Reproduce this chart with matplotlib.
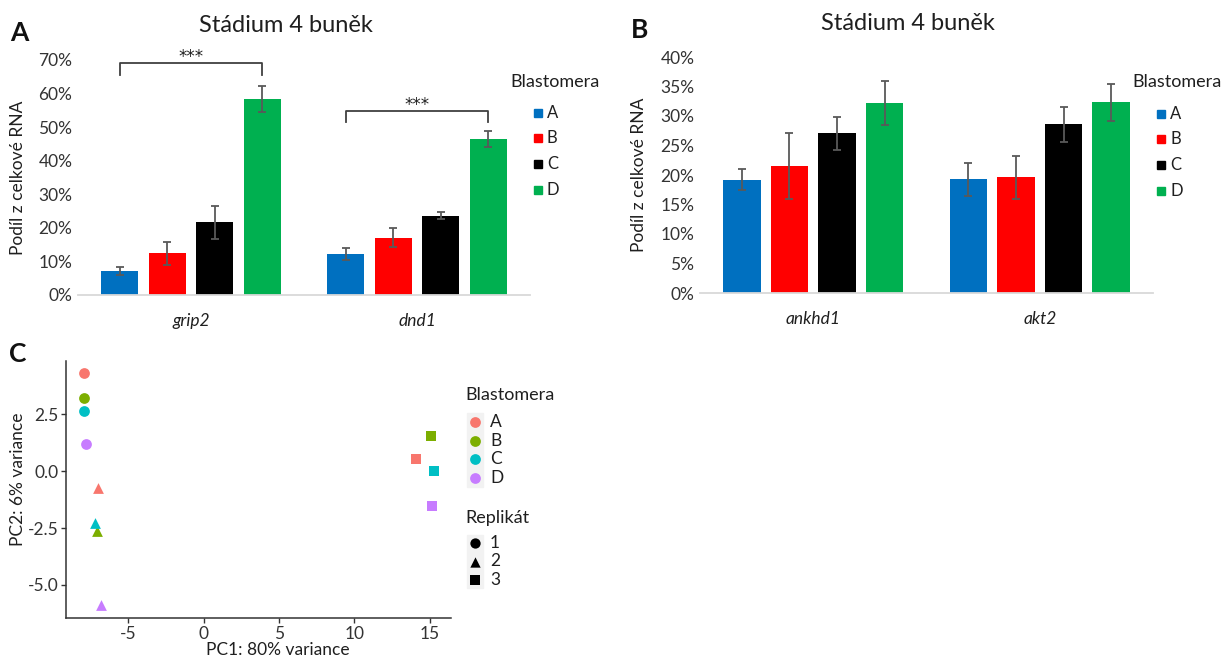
import matplotlib
matplotlib.use("Agg")
import matplotlib.pyplot as plt
import matplotlib.ticker as mticker
from matplotlib.patches import Rectangle
import numpy as np

plt.rcParams["font.family"] = ["Lato", "DejaVu Sans"]
plt.rcParams["axes.unicode_minus"] = False

W, H = 1232, 661

BLASTOMERES = ["A", "B", "C", "D"]
BAR_COLORS = ["#0070C0", "#FF0000", "#000000", "#00B050"]

# panel A: per gene, values for blastomere A..D (% of total RNA)
GENES_A = ["grip2", "dnd1"]
MEANS_A = [[7.2, 12.4, 21.6, 58.4], [12.2, 17.1, 23.6, 46.5]]
ERRS_A = [[1.1, 3.5, 4.9, 3.9], [1.9, 2.8, 1.0, 2.3]]
# significance brackets (top, leg bottom) in %
BRACKETS_A = [(69.0, 65.5), (54.8, 51.4)]

# panel B
GENES_B = ["ankhd1", "akt2"]
MEANS_B = [[19.2, 21.6, 27.05, 32.2], [19.3, 19.6, 28.6, 32.3]]
ERRS_B = [[1.75, 5.6, 2.85, 3.65], [2.8, 3.6, 2.95, 3.1]]

# panel C: PCA
PCA_BLAST = ["A", "B", "C", "D", "A", "B", "C", "D", "A", "B", "C", "D"]
PCA_REP = [1, 1, 1, 1, 2, 2, 2, 2, 3, 3, 3, 3]
PC1 = [-7.92, -7.94, -7.92, -7.81, -7.0, -7.08, -7.18, -6.77, 14.1, 15.09, 15.28, 15.15]
PC2 = [4.32, 3.19, 2.63, 1.18, -0.75, -2.65, -2.29, -5.88, 0.51, 1.56, 0.0, -1.53]
GG_COLORS = {"A": "#F8766D", "B": "#7CAE00", "C": "#00BFC4", "D": "#C77CFF"}
REP_MARKERS = {1: "o", 2: "^", 3: "s"}

TXT = "#1f1f1f"
TICK = "#333333"


def px_axes(fig, x0, y0, x1, y1):
    return fig.add_axes([x0 / W, 1 - y1 / H, (x1 - x0) / W, (y1 - y0) / H])


def bar_panel(ax, genes, means, errs, ymax, step):
    x = np.arange(len(genes))
    offsets = (np.arange(4) - 1.5) * 0.21
    for i, color in enumerate(BAR_COLORS):
        vals = [m[i] for m in means]
        err = [e[i] for e in errs]
        ax.bar(x + offsets[i], vals, width=0.165, color=color, zorder=2)
        ax.errorbar(x + offsets[i], vals, yerr=err, fmt="none", ecolor="#595959",
                    elinewidth=1.3, capsize=3, capthick=1.3, zorder=3)
    ax.set_xlim(-0.5, 1.5)
    ax.set_ylim(0, ymax)
    ax.set_yticks(np.arange(0, ymax + 0.01, step))
    ax.yaxis.set_major_formatter(mticker.FuncFormatter(lambda v, p: f"{v:.0f}%"))
    ax.set_xticks(x)
    ax.set_xticklabels(genes, fontstyle="italic", fontsize=12.5, color=TXT)
    for s in ["top", "right", "left"]:
        ax.spines[s].set_visible(False)
    ax.spines["bottom"].set_color("#D9D9D9")
    ax.spines["bottom"].set_linewidth(1.3)
    ax.tick_params(axis="both", length=0, labelsize=12.5, colors=TICK)
    ax.tick_params(axis="x", pad=13, colors=TXT)
    ax.tick_params(axis="y", pad=4)
    ax.set_ylabel("Podíl z celkové RNA", fontsize=12.5, color=TXT)
    return x, offsets


def bar_legend(lay, x_title, y_title, x_sq, ys):
    lay.text(x_title, y_title, "Blastomera", fontsize=13, color=TXT, va="center")
    for y, name, color in zip(ys, BLASTOMERES, BAR_COLORS):
        lay.add_patch(Rectangle((x_sq, y - 4), 8, 8, color=color))
        lay.text(x_sq + 13, y, name, fontsize=12, color=TXT, va="center")


fig = plt.figure(figsize=(W / 100, H / 100), dpi=100)

# ---- panel A
ax_a = px_axes(fig, 78, 60, 530, 295)
x_a, off = bar_panel(ax_a, GENES_A, MEANS_A, ERRS_A, 70, 10)
ax_a.yaxis.set_label_coords(-0.115, 0.5)
for xi, (top, leg) in zip(x_a, BRACKETS_A):
    x0, x1 = xi + off[0], xi + off[3]
    ax_a.plot([x0, x0, x1, x1], [leg, top, top, leg], color="#404040", lw=1.3,
              clip_on=False, zorder=4)
    ax_a.text((x0 + x1) / 2, top - 0.9, "***", ha="center", va="bottom",
              fontsize=12, family="DejaVu Sans", color=TXT, clip_on=False)

# ---- panel B
ax_b = px_axes(fig, 700, 57, 1153, 293)
bar_panel(ax_b, GENES_B, MEANS_B, ERRS_B, 40, 5)
ax_b.yaxis.set_label_coords(-0.118, 0.5)

# ---- panel C
ax_c = px_axes(fig, 66, 361, 451, 618)
for px, py, b, r in zip(PC1, PC2, PCA_BLAST, PCA_REP):
    ax_c.scatter(px, py, s=60 if r != 3 else 52, marker=REP_MARKERS[r],
                 color=GG_COLORS[b], linewidths=0, zorder=3)
ax_c.set_xlim(-9.12, 16.4)
ax_c.set_ylim(-6.45, 4.83)
ax_c.set_xticks([-5, 0, 5, 10, 15])
ax_c.set_yticks([-5.0, -2.5, 0.0, 2.5])
ax_c.yaxis.set_major_formatter(mticker.FuncFormatter(lambda v, p: f"{v:.1f}"))
for s in ["top", "right"]:
    ax_c.spines[s].set_visible(False)
for s in ["left", "bottom"]:
    ax_c.spines[s].set_color("#333333")
    ax_c.spines[s].set_linewidth(1.1)
ax_c.tick_params(axis="both", length=3.5, width=1, colors="#333333", pad=2,
                 labelsize=12.5, labelcolor="#333333")
ax_c.set_xlabel("PC1: 80% variance", fontsize=12.5, color=TXT, va="center")
ax_c.xaxis.set_label_coords(0.55, -0.125)
ax_c.set_ylabel("PC2: 6% variance", fontsize=12.5, color=TXT)
ax_c.yaxis.set_label_coords(-0.105, 0.54)

# ---- overlay for titles, panel letters and legends (pixel coordinates)
lay = fig.add_axes([0, 0, 1, 1])
lay.set_xlim(0, W)
lay.set_ylim(H, 0)
lay.axis("off")

lay.text(286, 25, "Stádium 4 buněk", fontsize=17, ha="center", va="center", color=TXT)
lay.text(908, 23, "Stádium 4 buněk", fontsize=17, ha="center", va="center", color=TXT)
for letter, lx, ly in [("A", 19, 33), ("B", 640, 30), ("C", 18, 354)]:
    lay.text(lx, ly, letter, fontsize=19, fontweight="bold", ha="center",
             va="center", color="#111111")

bar_legend(lay, 510, 82, 534, [113, 138, 164, 190])
bar_legend(lay, 1132, 82, 1157, [114, 139, 165, 191])

lay.add_patch(Rectangle((467, 412.7), 16.3, 74, color="#F2F2F2", zorder=1))
lay.add_patch(Rectangle((467, 535), 16.3, 53, color="#F2F2F2", zorder=1))
lay.text(465, 395, "Blastomera", fontsize=13, color=TXT, va="center")
for y, b in zip([421.7, 440.5, 459.2, 478], BLASTOMERES):
    lay.scatter(475, y, s=60, marker="o", color=GG_COLORS[b], linewidths=0, zorder=2)
    lay.text(490, y, b, fontsize=12.5, color=TXT, va="center")
lay.text(465, 518, "Replikát", fontsize=13, color=TXT, va="center")
for y, r in zip([542.7, 561.5, 580.3], [1, 2, 3]):
    lay.scatter(475, y, s=55 if r != 3 else 48, marker=REP_MARKERS[r], color="black",
                linewidths=0, zorder=2)
    lay.text(490, y, str(r), fontsize=12.5, color=TXT, va="center")

fig.savefig("out.png", dpi=100)
